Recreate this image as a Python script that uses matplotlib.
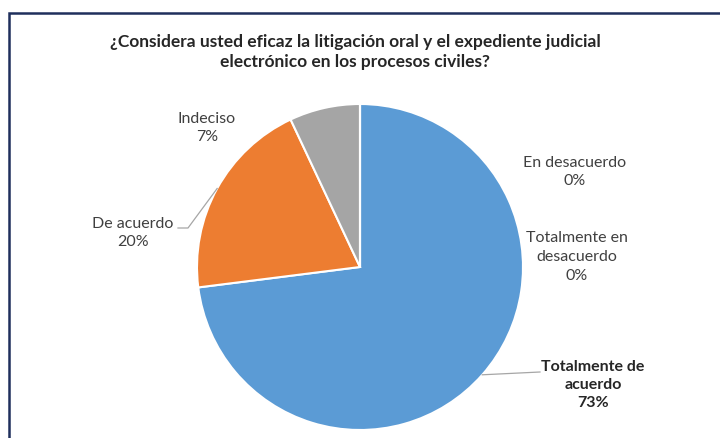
import numpy as np
import matplotlib.pyplot as plt
from matplotlib.patches import Rectangle

plt.rcParams['font.family'] = ['Lato', 'DejaVu Sans']

# data
categories = ["Totalmente de acuerdo", "De acuerdo", "Indeciso",
              "En desacuerdo", "Totalmente en desacuerdo"]
shares = [73, 20, 7, 0, 0]
colors = ["#5b9bd5", "#ed7d31", "#a5a5a5", "#ffc000", "#4472c4"]
title = "¿Considera usted eficaz la litigación oral y el expediente judicial\nelectrónico en los procesos civiles?"

W, H = 720, 438
fig = plt.figure(figsize=(W / 100, H / 100), dpi=100)
ax = fig.add_axes([0, 0, 1, 1])

cx, cy, r = 360, H - 267, 163
wedges, _ = ax.pie(shares, colors=colors, startangle=90, counterclock=False,
                   center=(cx, cy), radius=r,
                   wedgeprops=dict(edgecolor="white", linewidth=1.5))
ax.set_xlim(0, W)
ax.set_ylim(0, H)
ax.set_aspect("equal")
ax.axis("off")

# outer frame (cropped chart area border)
ax.add_patch(Rectangle((9, -20), W + 20, H - 13 + 20, fill=False,
                       edgecolor="#1f2f5c", linewidth=1.8))

ax.text(355, H - 52, title, ha="center", va="center", fontsize=12.5,
        fontweight="bold", color="#262626", linespacing=1.3)

lab_col = "#404040"
fs = 11.5


def edge_point(w):
    a = np.deg2rad((w.theta1 + w.theta2) / 2)
    return cx + r * np.cos(a), cy + r * np.sin(a)


# Totalmente de acuerdo
px, py = edge_point(wedges[0])
ax.plot([px, 540], [py, H - 372], color="#a6a6a6", lw=0.9)
ax.text(593, H - 385, f"{categories[0].replace(' de ', ' de\n')}\n{shares[0]}%",
        ha="center", va="center", fontsize=fs, fontweight="bold",
        color="#262626", linespacing=1.4)

# De acuerdo
px, py = edge_point(wedges[1])
ax.plot([178, 188, px], [H - 228, H - 228, py], color="#a6a6a6", lw=0.9)
ax.text(133, H - 233, f"{categories[1]}\n{shares[1]}%", ha="center",
        va="center", fontsize=fs, color=lab_col, linespacing=1.45)

# Indeciso
ax.text(207, H - 128, f"{categories[2]}\n{shares[2]}%", ha="center",
        va="center", fontsize=fs, color=lab_col, linespacing=1.45)

# zero slices
ax.text(575, H - 172, f"{categories[3]}\n{shares[3]}%", ha="center",
        va="center", fontsize=fs, color=lab_col, linespacing=1.45)
ax.text(577, H - 257, f"Totalmente en\ndesacuerdo\n{shares[4]}%",
        ha="center", va="center", fontsize=fs, color=lab_col, linespacing=1.45)

fig.savefig("out.png", dpi=100)
